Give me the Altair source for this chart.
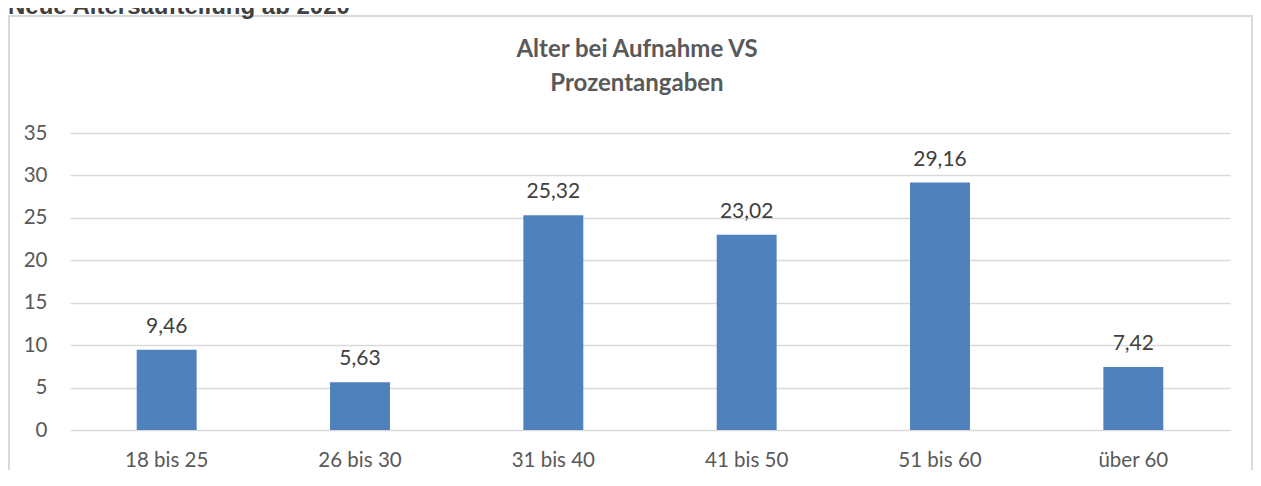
import altair as alt
import pandas as pd

categories = ["18 bis 25", "26 bis 30", "31 bis 40", "41 bis 50", "51 bis 60", "über 60"]
values = [9.46, 5.63, 25.32, 23.02, 29.16, 7.42]
y_ticks = [0, 5, 10, 15, 20, 25, 30, 35]
chart_title = ["Alter bei Aufnahme VS", "Prozentangaben"]
top_caption = "Neue Altersaufteilung ab 2020"

df = pd.DataFrame({
    "Altersgruppe": categories,
    "Prozent": values,
    "Label": [f"{v:.2f}".replace(".", ",") for v in values],
})

W, H = 1160, 297
FONT = "Lato"
GREY = "#595959"

base = alt.Chart(df).encode(
    x=alt.X(
        "Altersgruppe:N", sort=categories,
        scale=alt.Scale(paddingInner=0.69, paddingOuter=0.345),
        axis=alt.Axis(title=None, labelAngle=0, domain=False, ticks=False, grid=False,
                      labelPadding=20, labelFontSize=20.5, labelFont=FONT, labelColor=GREY),
    ),
    y=alt.Y(
        "Prozent:Q", scale=alt.Scale(domain=[0, 35], nice=False),
        axis=alt.Axis(title=None, values=y_ticks, domain=False, ticks=False, grid=True,
                      gridColor="#d9d9d9", gridWidth=1.3, labelPadding=23,
                      labelFontSize=20.5, labelFont=FONT, labelColor=GREY),
    ),
)

bars = base.mark_bar(color="#4F81BD")
labels = base.mark_text(dy=-17, baseline="alphabetic", font=FONT, fontSize=21,
                        color="#404040").encode(text="Label:N")

one = alt.Data(values=[{}])
frame = alt.Chart(one).mark_rect(fillOpacity=0, stroke="#d9d9d9", strokeWidth=2).encode(
    x=alt.value(-61), x2=alt.value(1182), y=alt.value(-117), y2=alt.value(H + 80)
)
title = alt.Chart(one).mark_text(
    text=chart_title, font=FONT, fontSize=24, fontWeight="bold", color=GREY,
    align="center", baseline="alphabetic", lineHeight=34,
).encode(x=alt.value(567), y=alt.value(-76))
caption = alt.Chart(one).mark_text(
    text=top_caption, font="Liberation Sans", fontSize=24, fontWeight="bold",
    color="#404040", align="left", baseline="alphabetic",
).encode(x=alt.value(-62), y=alt.value(-119))

chart = alt.layer(frame, bars, labels, title, caption).properties(
    width=W, height=H,
    autosize=alt.AutoSizeParams(type="none"),
    padding={"left": 62, "top": 125, "right": 23, "bottom": 40},
).configure_view(stroke=None)

chart.save("out.html", embed_options={"renderer": "svg", "actions": False})
